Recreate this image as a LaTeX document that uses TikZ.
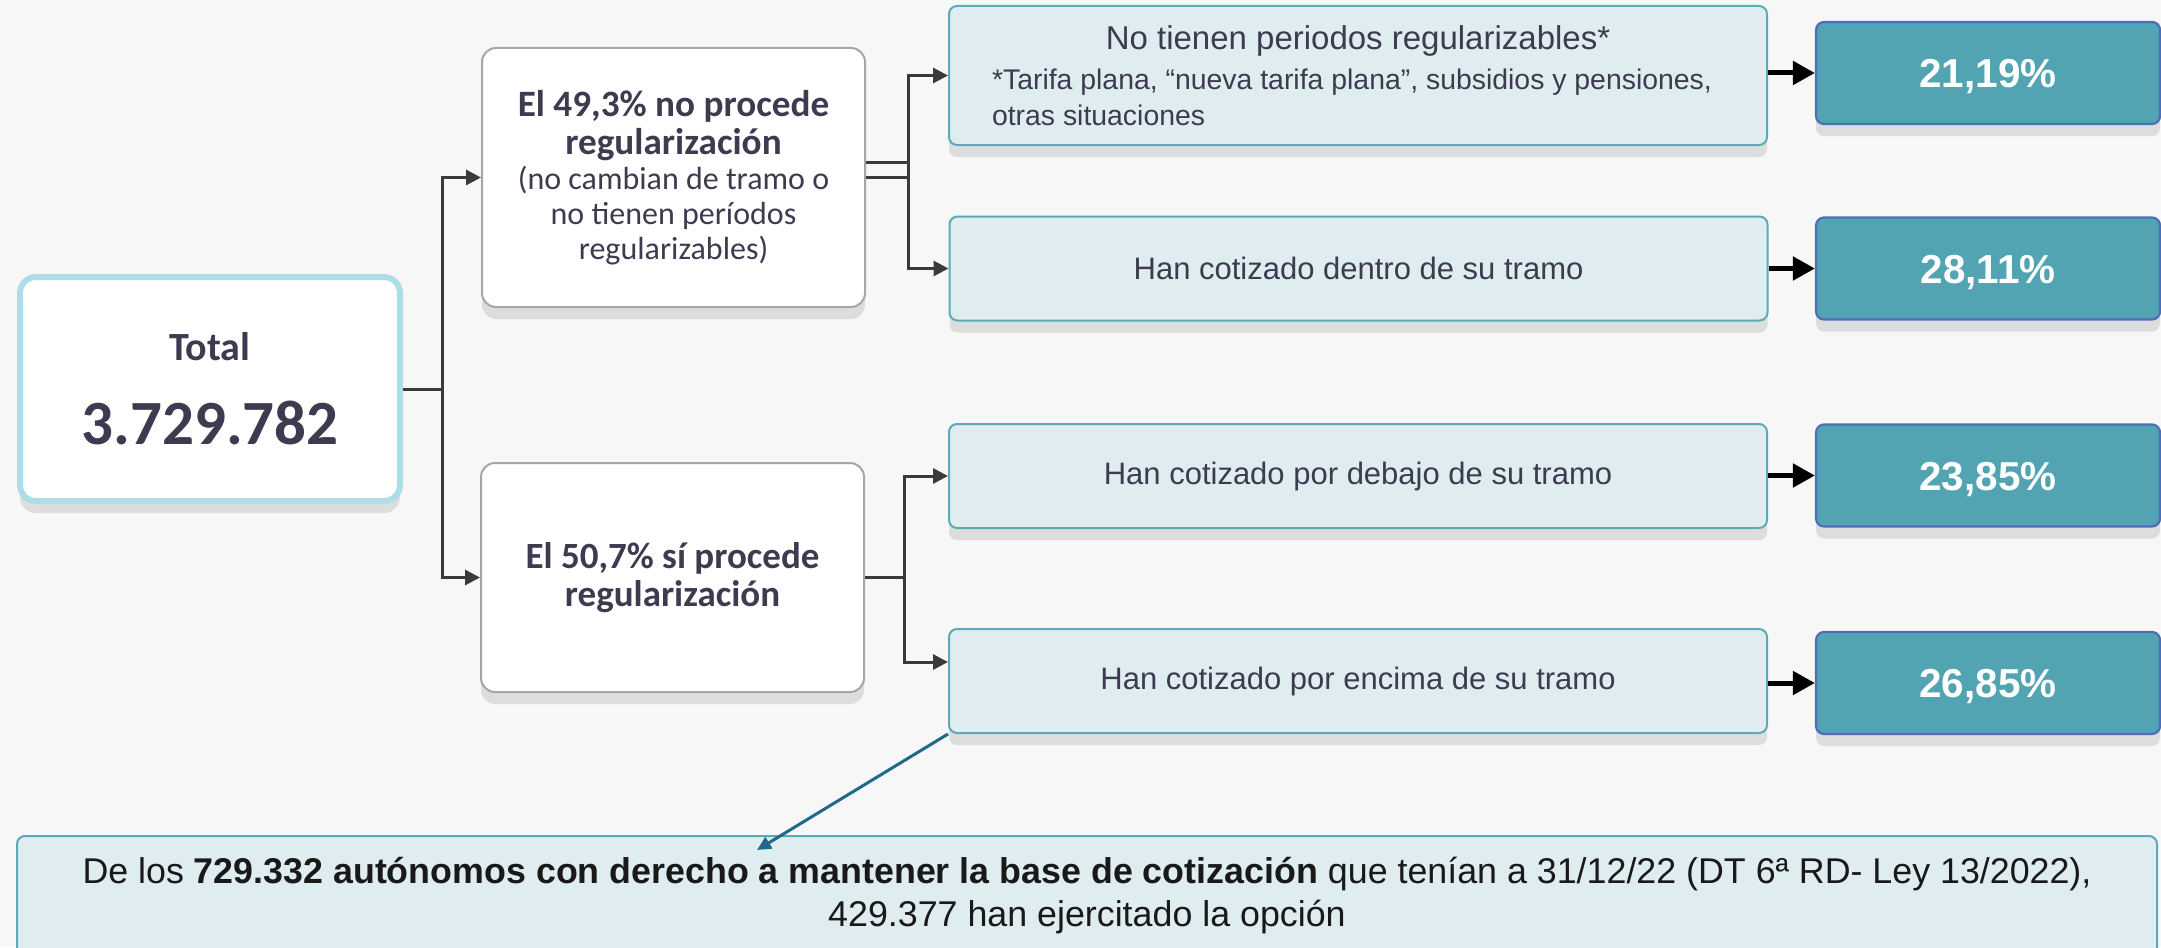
\documentclass[tikz,border=0pt]{standalone}
\usepackage{fontspec}
\setmainfont{Liberation Sans}
\newfontfamily\calfont{Carlito}
\usetikzlibrary{arrows.meta,shadows,calc}
\definecolor{txt}{HTML}{3D3B4F}
\definecolor{connc}{HTML}{3A3A3A}
\definecolor{lbfill}{HTML}{DFEDF1}
\definecolor{lbdraw}{HTML}{5AAAB8}
\definecolor{tealfill}{HTML}{53A4B3}
\definecolor{tealdraw}{HTML}{4F6DBA}
\definecolor{greydraw}{HTML}{A6A6A6}
\definecolor{glow}{HTML}{ADDDE8}
\definecolor{callc}{HTML}{1F6A8A}
\definecolor{bgc}{HTML}{F7F7F7}
\begin{document}
\begin{tikzpicture}[x=0.5pt,y=-0.5pt,
  softshadow/.style={drop shadow={opacity=0.10,shadow xshift=0pt,shadow yshift=-6pt,fill=black}},
  totalbox/.style={draw=glow,line width=3pt,fill=white,rounded corners=8pt,minimum width=190pt,minimum height=112pt,align=center,text=txt,font=\calfont\bfseries\fontsize{31.5}{36}\selectfont,softshadow},
  greybox/.style={draw=greydraw,line width=1pt,fill=white,rounded corners=7pt,minimum width=191.5pt,align=center,text=txt,font=\calfont\fontsize{16}{17.5}\selectfont,softshadow},
  lightbox/.style={draw=lbdraw,line width=1pt,fill=lbfill,rounded corners=4pt,minimum width=409pt,minimum height=52pt,align=center,text=txt,font=\fontsize{15.5}{18}\selectfont,softshadow},
  pctbox/.style={draw=tealdraw,line width=1.1pt,fill=tealfill,rounded corners=4pt,minimum width=172pt,minimum height=51pt,text height=14.5pt,text depth=0pt,text=white,font=\bfseries\fontsize{20.2}{24}\selectfont,softshadow},
  notebox/.style={draw=lbdraw,line width=1pt,fill=lbfill,rounded corners=4pt,minimum width=1070pt,minimum height=60pt,align=center,text=black!90,font=\fontsize{17.9}{21.5}\selectfont},
  connline/.style={draw=connc,line width=1.5pt},
  connarrow/.style={connline,-{Triangle[length=7.5pt,width=7.5pt]}},
  bigarrow/.style={draw=black,line width=2.5pt,-{Triangle[length=11pt,width=11.5pt]}},
  callarrow/.style={draw=callc,line width=1.5pt,-{Triangle[length=7pt,width=6.5pt]}}
]
\fill[bgc] (0,0) rectangle (2161,947);
\useasboundingbox (0,0) rectangle (2161,947);

% main nodes
\node[totalbox] (total) at (210,389) {{\fontsize{20}{24}\selectfont Total}\\[6pt]3.729.782};
\node[greybox,minimum height=129.5pt] (A) at (673.5,177.5)
  {{\bfseries\fontsize{18.6}{19}\selectfont El 49,3\% no procede}\\[1.5pt]
   {\bfseries\fontsize{18.6}{19}\selectfont regularización}\\
   (no cambian de tramo o\\ no tienen períodos\\ regularizables)};
\node[greybox,minimum height=114.5pt] (B) at (672.5,577.5)
  {{\bfseries\fontsize{18.5}{19}\selectfont El 50,7\% sí procede}\\[1.5pt]
   {\bfseries\fontsize{18.5}{19}\selectfont regularización}};

\node[lightbox,minimum height=69.5pt,align=left] (C1) at (1358,75.5)
  {\makebox[366pt][c]{\fontsize{16.5}{18}\selectfont No tienen periodos regularizables*}\\[2pt]
   {\fontsize{14.2}{17.5}\selectfont *Tarifa plana, “nueva tarifa plana”, subsidios y pensiones,}\\
   {\fontsize{14.2}{17.5}\selectfont otras situaciones}};
\node[lightbox] (C2) at (1358.5,268.5) {Han cotizado dentro de su tramo};
\node[lightbox] (C3) at (1358,476) {Han cotizado por debajo de su tramo};
\node[lightbox] (C4) at (1358,681) {Han cotizado por encima de su tramo};

\node[pctbox] (T1) at (1988,73) {21,19\%};
\node[pctbox] (T2) at (1988,268.5) {28,11\%};
\node[pctbox] (T3) at (1988,475.5) {23,85\%};
\node[pctbox] (T4) at (1988,683) {26,85\%};

\node[notebox,anchor=north] (note) at (1087,835)
  {De los \textbf{729.332 autónomos con derecho a mantener la base de cotización} que tenían a 31/12/22 (DT 6ª RD- Ley 13/2022),\\
   429.377 han ejercitado la opción};

% junction coordinates
\coordinate (j0) at (442,0);
\coordinate (ja) at (908,0);
\coordinate (jb) at (904,0);
\coordinate (tip) at (757,850);

% connectors from total
\draw[connline] (total.east) -- (j0 |- total.east);
\draw[connarrow] (j0 |- total.east) |- (A.west);
\draw[connarrow] (j0 |- total.east) |- (B.west);

% connectors from A
\draw[connline] ($(A.east)+(0,-15)$) -- ($(ja |- A.east)+(0,-15)$);
\draw[connarrow] (A.east) -- (ja |- A.east) |- (C1.west);
\draw[connarrow] ($(ja |- A.east)+(0,-15)$) |- (C2.west);

% connectors from B
\draw[connarrow] (B.east) -- (jb |- B.east) |- (C3.west);
\draw[connarrow] (jb |- B.east) |- ($(C4.west)+(0,-19)$);

% thick arrows to percentages
\draw[bigarrow] (C1.east |- T1.west) -- (T1.west);
\draw[bigarrow] (C2.east |- T2.west) -- (T2.west);
\draw[bigarrow] (C3.east |- T3.west) -- (T3.west);
\draw[bigarrow] (C4.east |- T4.west) -- (T4.west);

% callout
\draw[callarrow] (C4.south west) -- (tip);
\end{tikzpicture}
\end{document}
